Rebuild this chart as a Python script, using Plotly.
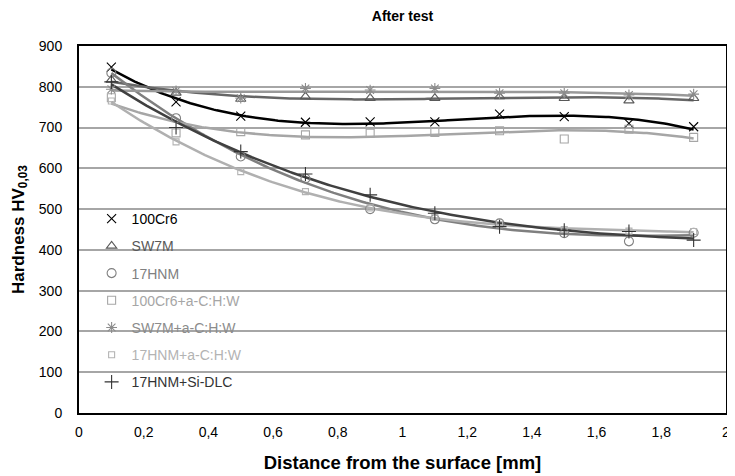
import numpy as np
import plotly.graph_objects as go

# ---------------- data ----------------
depth = [0.1, 0.3, 0.5, 0.7, 0.9, 1.1, 1.3, 1.5, 1.7, 1.9]

series_names = ["100Cr6", "SW7M", "17HNM", "100Cr6+a-C:H:W",
                "SW7M+a-C:H:W", "17HNM+a-C:H:W", "17HNM+Si-DLC"]

hv_100cr6 = [848, 763, 728, 713, 714, 714, 733, 727, 710, 702]
hv_sw7m = [817, 785, 770, 776, 772, 772, 776, 772, 766, 772]
hv_17hnm = [834, 723, 629, 575, 500, 475, 465, 441, 421, 442]
hv_100cr6_ac = [773, 687, 690, 682, 686, 688, 692, 672, 696, 676]
hv_sw7m_ac = [794, 790, 772, 796, 792, 796, 784, 784, 780, 782]
hv_17hnm_ac = [765, 665, 592, 543, 503, 480, 462, 450, 446, 445]
hv_17hnm_si = [812, 700, 641, 586, 535, 490, 457, 448, 445, 424]

x_ticks = [0, 0.2, 0.4, 0.6, 0.8, 1, 1.2, 1.4, 1.6, 1.8, 2]
x_labels = ["0", "0,2", "0,4", "0,6", "0,8", "1", "1,2", "1,4", "1,6", "1,8", "2"]
y_ticks = [0, 100, 200, 300, 400, 500, 600, 700, 800, 900]

# ---------------- styles ----------------
values = [hv_100cr6, hv_sw7m, hv_17hnm, hv_100cr6_ac, hv_sw7m_ac, hv_17hnm_ac, hv_17hnm_si]
marker_colors = ["#000000", "#595959", "#808080", "#a6a6a6", "#8c8c8c", "#b3b3b3", "#333333"]
line_colors = ["#000000", "#666666", "#7f7f7f", "#a6a6a6", "#999999", "#b0b0b0", "#404040"]
symbols = ["x-thin-open", "triangle-up-open", "circle-open", "square-open",
           "asterisk-open", "square-open", "cross-thin-open"]
sizes = [9, 9, 9, 8, 9, 6, 10]

FONT = "Arial, Liberation Sans, sans-serif"

fig = go.Figure()
xfit = np.linspace(min(depth), max(depth), 200)
for i, (name, vals) in enumerate(zip(series_names, values)):
    coef = np.polyfit(depth, vals, 3)
    fig.add_trace(go.Scatter(
        x=xfit, y=np.polyval(coef, xfit), mode="lines",
        line=dict(color=line_colors[i], width=2.5),
        showlegend=False, legendgroup=name, hoverinfo="skip"))
for i, (name, vals) in enumerate(zip(series_names, values)):
    fig.add_trace(go.Scatter(
        x=depth, y=vals, mode="markers",
        name=f"<span style='color:{marker_colors[i]}'>{name}</span>",
        legendgroup=name,
        marker=dict(symbol=symbols[i], size=sizes[i], color=marker_colors[i],
                    line=dict(width=1.1, color=marker_colors[i]))))

# white patch behind the legend (covers the gridlines like the original)
fig.add_shape(type="rect", xref="paper", yref="paper",
              x0=0.034, x1=0.283, y0=0.035, y1=0.567,
              fillcolor="white", line=dict(width=0), layer="between")

# the page body adds an 8px offset, so the figure is 8px smaller than the window
fig.update_layout(
    width=727, height=468,
    margin=dict(l=71, r=5, t=38, b=63),
    paper_bgcolor="white", plot_bgcolor="white",
    font=dict(family=FONT, size=14, color="#000000"),
    title=dict(text="<b>After test</b>", x=0.5, xref="paper", y=0.983,
               yanchor="middle", font=dict(family=FONT, size=14)),
    showlegend=True,
    legend=dict(x=0.0195, y=0.572, xanchor="left", yanchor="top",
                bgcolor="rgba(0,0,0,0)", borderwidth=0,
                font=dict(family=FONT, size=14),
                tracegroupgap=6, traceorder="grouped",
                itemsizing="trace"),
    xaxis=dict(range=[0, 2], tickmode="array", tickvals=x_ticks, ticktext=x_labels,
               showgrid=False, zeroline=False,
               showline=True, linecolor="black", linewidth=2, mirror=True,
               ticks="", ticklabelstandoff=5, ticklabeloverflow="allow",
               title=dict(text="<b>Distance from the surface [mm]</b>",
                          font=dict(family=FONT, size=18.5), standoff=17)),
    yaxis=dict(range=[0, 900], tickvals=y_ticks,
               showgrid=True, gridcolor="#a6a6a6", gridwidth=1.5, zeroline=False,
               showline=True, linecolor="black", linewidth=2, mirror=True,
               ticks="", ticklabelstandoff=12, ticklabeloverflow="allow",
               title=dict(text="<b>Hardness HV<sub>0,03</sub></b>",
                          font=dict(family=FONT, size=17), standoff=10)),
)

fig.write_html("out.html")
